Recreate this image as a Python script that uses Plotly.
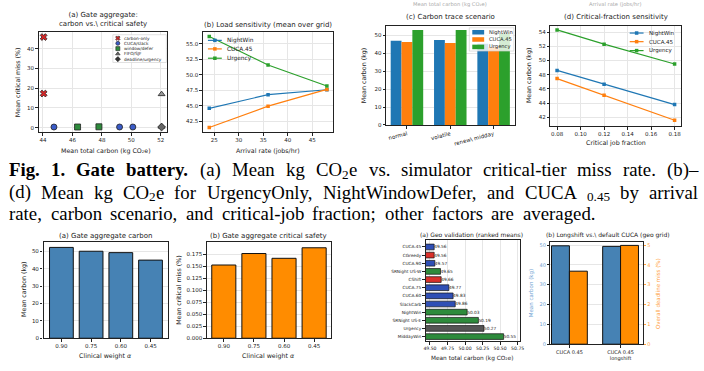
import plotly.graph_objects as go

W, H = 704, 371

# ---------------- data ----------------
a_groups = ["carbon-only", "CUCA/slack", "window/defer", "FIFO/SJF", "deadline/urgency"]
a_carbon_only_x = [44.05, 44.05]
a_carbon_only_y = [46.0, 17.3]
a_cuca_x = [44.75, 49.2, 50.1]
a_cuca_y = [0.3, 0.3, 0.3]
a_window_x = [46.35, 47.8]
a_window_y = [0.3, 0.4]
a_fifo_x = [52.05, 52.05]
a_fifo_y = [17.0, 0.5]
a_deadline_x = [52.05]
a_deadline_y = [0.3]

series_names = ["NightWin", "CUCA.45", "Urgency"]

arrival_rates = [24, 36, 48]
load_nightwin = [44.6, 46.8, 47.6]
load_cuca45 = [41.5, 44.95, 47.65]
load_urgency = [56.2, 51.6, 48.2]

scenarios = ["normal", "volatile", "renew\\ midday"]
scen_nightwin = [47.0, 47.5, 45.3]
scen_cuca45 = [46.3, 45.8, 43.5]
scen_urgency = [53.0, 53.0, 50.9]

crit_fracs = [0.08, 0.12, 0.18]
crit_nightwin = [48.6, 46.65, 43.8]
crit_cuca45 = [47.45, 45.1, 41.6]
crit_urgency = [54.3, 52.3, 49.5]

alphas = ["0.90", "0.75", "0.60", "0.45"]
gate_carbon = [52.2, 50.0, 49.2, 44.9]
gate_miss = [0.153, 0.177, 0.167, 0.189]

geo_methods = ["CUCA.45", "CGreedy", "CUCA.90", "SRNight US-W", "CShift", "CUCA.75",
               "CUCA.60", "SlackCarb", "NightWin", "SRNight US-E", "Urgency", "MiddayWin"]
geo_means = [49.56, 49.56, 49.57, 49.65, 49.66, 49.77, 49.83, 49.86, 50.03, 50.19, 50.27, 50.55]
geo_family = ["cuca", "carbon", "cuca", "window", "carbon", "cuca",
              "cuca", "cuca", "window", "window", "baseline", "window"]

ls_labels = ["CUCA 0.45", "CUCA 0.45<br>longshift"]
ls_carbon = [49.6, 49.3]
ls_miss = [3.68, 4.98]

# caption words: each word is a list of (text, style) with style in {"r","b","sub"}
cap_line1 = [[("Fig.", "b")], [("1.", "b")], [("Gate", "b")], [("battery.", "b")],
             [("(a)", "r")], [("Mean", "r")], [("kg", "r")], [("CO", "r"), ("2", "sub"), ("e", "r")],
             [("vs.", "r")], [("simulator", "r")], [("critical-tier", "r")], [("miss", "r")],
             [("rate.", "r")], [("(b)–", "r")]]
cap_line2 = [[("(d)", "r")], [("Mean", "r")], [("kg", "r")], [("CO", "r"), ("2", "sub"), ("e", "r")],
             [("for", "r")], [("UrgencyOnly,", "r")], [("NightWindowDefer,", "r")], [("and", "r")],
             [("CUCA", "r")], [("0.45", "sub")], [("by", "r")], [("arrival", "r")]]
cap_line3 = [[(w, "r")] for w in
             "rate, carbon scenario, and critical-job fraction; other factors are averaged.".split(" ")]

# ---------------- Times metrics (per 1000 em) for caption layout ----------------
TR = {' ': 250, '(': 333, ')': 333, ',': 250, '-': 333, '.': 250, ';': 278, '–': 500,
      '0': 500, '1': 500, '2': 500, '4': 500, '5': 500,
      'A': 722, 'C': 667, 'D': 722, 'M': 889, 'N': 722, 'O': 722, 'U': 722, 'W': 944,
      'a': 444, 'b': 500, 'c': 444, 'd': 500, 'e': 444, 'f': 333, 'g': 500, 'h': 500, 'i': 278,
      'j': 278, 'k': 500, 'l': 278, 'm': 778, 'n': 500, 'o': 500, 'p': 500, 'r': 333, 's': 389,
      't': 278, 'u': 500, 'v': 500, 'w': 722, 'y': 500}
TB = {' ': 250, '.': 250, '1': 500, 'F': 611, 'G': 778, 'a': 500, 'b': 556, 'e': 444, 'g': 500,
      'i': 278, 'r': 444, 't': 333, 'y': 500}

def seg_width(s, style, size):
    tbl = TB if style == "b" else TR
    scale = 0.7 if style == "sub" else 1.0
    return sum(tbl.get(c, 500) for c in s) / 1000.0 * size * scale

def word_width(word, size):
    return sum(seg_width(s, st, size) for s, st in word)

# ---------------- styles ----------------
C_BLUE, C_ORANGE, C_GREEN = "#1f77b4", "#ff7f0e", "#2ca02c"
series_colors = [C_BLUE, C_ORANGE, C_GREEN]
STEEL, DORANGE = "#4682b4", "#ff8c00"
fam_colors = {"cuca": "#2f4fb5", "carbon": "#d9302a", "window": "#2e8b3c", "baseline": "#555555"}
FONT = "DejaVu Sans"
SERIF = "Liberation Serif"
CO2_LABEL = "Mean total carbon (kg CO\u2082e)"

def fx(p):
    return p / W

def fy(p):
    return 1 - p / H

panels = {
    "A": (37, 167, 32, 133),
    "B": (203, 334, 32, 133),
    "C": (388, 518, 26, 126),
    "D": (554, 686, 26, 127),
    "E": (42, 168, 244, 341),
    "F": (207, 332, 244, 341),
    "G": (428, 523, 242, 344),
    "H": (554, 647, 244, 347),
}

def xdom(k):
    x0, x1, _, _ = panels[k]
    return [fx(x0), fx(x1)]

def ydom(k):
    _, _, yt, yb = panels[k]
    return [fy(yb), fy(yt)]

def axis(dom, anchor, fs=5.5, grid=True, **kw):
    d = dict(domain=dom, anchor=anchor, ticks="outside", ticklen=2.5, tickwidth=0.8,
             tickcolor="#222", tickfont=dict(family=FONT, size=fs, color="#222"),
             showline=True, linecolor="#222", linewidth=1.2, mirror=True,
             zeroline=False, showgrid=grid, gridcolor="#e6e6e6", gridwidth=0.7)
    d.update(kw)
    return d

fig = go.Figure()

# ---- (a) scatter ----
def sc(x, y, sym, col, size=6):
    fig.add_trace(go.Scatter(x=x, y=y, mode="markers", xaxis="x", yaxis="y", showlegend=False,
                             marker=dict(symbol=sym, size=size, color=col,
                                         line=dict(color="#222", width=0.8))))

sc(a_carbon_only_x, a_carbon_only_y, "x", "#d62728")
sc(a_cuca_x, a_cuca_y, "circle", "#3a5bc7")
sc(a_window_x, a_window_y, "square", "#2e8b3c")
sc(a_fifo_x, a_fifo_y, "triangle-up", "#999999")
sc(a_deadline_x, a_deadline_y, "diamond", "#666666")

# ---- (b) load sensitivity ----
for ys, col in zip([load_nightwin, load_cuca45, load_urgency], series_colors):
    fig.add_trace(go.Scatter(x=arrival_rates, y=ys, mode="lines+markers", xaxis="x2", yaxis="y2",
                             showlegend=False, line=dict(color=col, width=1.2),
                             marker=dict(symbol="square", size=3.5, color=col)))

# ---- (c) carbon trace scenario ----
for k, (ys, col) in enumerate(zip([scen_nightwin, scen_cuca45, scen_urgency], series_colors)):
    fig.add_trace(go.Bar(x=list(range(len(scenarios))), y=ys, xaxis="x3", yaxis="y3",
                         offset=-0.375 + 0.25 * k, width=0.25, marker=dict(color=col, line=dict(width=0)),
                         showlegend=False))

# ---- (d) critical fraction ----
for ys, col in zip([crit_nightwin, crit_cuca45, crit_urgency], series_colors):
    fig.add_trace(go.Scatter(x=crit_fracs, y=ys, mode="lines+markers", xaxis="x4", yaxis="y4",
                             showlegend=False, line=dict(color=col, width=1.2),
                             marker=dict(symbol="square", size=3.5, color=col)))

# ---- bottom (a) gate carbon ----
fig.add_trace(go.Bar(x=list(range(len(alphas))), y=gate_carbon, xaxis="x5", yaxis="y5", width=0.8,
                     marker=dict(color=STEEL, line=dict(color="#111", width=1)), showlegend=False))
# ---- bottom (b) gate miss ----
fig.add_trace(go.Bar(x=list(range(len(alphas))), y=gate_miss, xaxis="x6", yaxis="y6", width=0.8,
                     marker=dict(color=DORANGE, line=dict(color="#111", width=1)), showlegend=False))

# ---- geo validation ----
gidx = list(range(len(geo_methods)))
fig.add_trace(go.Bar(x=geo_means, y=gidx, orientation="h", xaxis="x7", yaxis="y7", width=0.7,
                     marker=dict(color=[fam_colors[f] for f in geo_family], line=dict(color="#111", width=0.7)),
                     text=[f"{v:.2f}" for v in geo_means], textposition="outside",
                     textfont=dict(family=FONT, size=4.3, color="#222"), constraintext="none",
                     cliponaxis=False, showlegend=False))

# ---- longshift ----
lidx = list(range(len(ls_labels)))
fig.add_trace(go.Bar(x=lidx, y=ls_carbon, xaxis="x8", yaxis="y8", offset=-0.35, width=0.35,
                     marker=dict(color=STEEL, line=dict(color="#111", width=1)), showlegend=False))
fig.add_trace(go.Bar(x=lidx, y=ls_miss, xaxis="x8", yaxis="y9", offset=0.0, width=0.35,
                     marker=dict(color=DORANGE, line=dict(color="#111", width=1)), showlegend=False))

# ---------------- custom legends on a pixel overlay axis ----------------
def ov(x, y, **kw):
    fig.add_trace(go.Scatter(x=x, y=y, xaxis="x20", yaxis="y20", showlegend=False,
                             hoverinfo="skip", **kw))

def box(x0, y0, x1, y1, fill, edge=None):
    ov([x0, x1, x1, x0, x0], [y0, y0, y1, y1, y0], mode="lines", fill="toself", fillcolor=fill,
       line=dict(color=edge if edge else "rgba(0,0,0,0)", width=0.6))

annots = []

def txt(x, y, s, size, color="#222", xa="left", ya="middle", family=FONT, angle=0, pad=1):
    annots.append(dict(x=fx(x), y=fy(y), xref="paper", yref="paper", text=s, showarrow=False,
                       xanchor=xa, yanchor=ya, textangle=angle, borderpad=pad,
                       font=dict(family=family, size=size, color=color)))

# legend (a)
box(112, 35, 166, 63, "white", "#cccccc")
a_leg_y = [38.5, 43.7, 49.0, 54.3, 59.6]
a_leg_sym = [("x", "#d62728"), ("circle", "#3a5bc7"), ("square", "#2e8b3c"),
             ("triangle-up", "#666666"), ("diamond", "#333333")]
for lab, yy, (sym, col) in zip(a_groups, a_leg_y, a_leg_sym):
    ov([117], [yy], mode="markers", marker=dict(symbol=sym, size=4, color=col, line=dict(color="#222", width=0.6)))
    txt(121, yy, lab, 4.3)

# legend (b)
for lab, yy, col in zip(series_names, [40.7, 49.3, 58.7], series_colors):
    ov([208, 222], [yy, yy], mode="lines", line=dict(color=col, width=1.2))
    ov([215], [yy], mode="markers", marker=dict(symbol="square", size=3.5, color=col))
    txt(225.5, yy, lab, 5.8)

# legend (c)
box(472, 28, 517, 51.5, "rgba(255,255,255,0.8)", "#cccccc")
for lab, yy, col in zip(series_names, [32.5, 39.8, 47.3], series_colors):
    box(475, yy - 2.3, 487, yy + 2.3, col)
    txt(490, yy, lab, 5.2)

# legend (d)
for lab, yy, col in zip(series_names, [33.3, 42.0, 51.0], series_colors):
    ov([634, 648], [yy, yy], mode="lines", line=dict(color=col, width=1.2))
    ov([641], [yy], mode="markers", marker=dict(symbol="square", size=3.5, color=col))
    txt(651.5, yy, lab, 5.5)

# ---------------- titles & axis labels ----------------
def cx(k):
    x0, x1, _, _ = panels[k]
    return (x0 + x1) / 2

txt(cx("A"), 20, "(a) Gate aggregate:<br>carbon vs.\\ critical safety", 7, xa="center")
txt(cx("B"), 25, "(b) Load sensitivity (mean over grid)", 7, xa="center")
txt(cx("C"), 16.7, "(c) Carbon trace scenario", 7, xa="center")
txt(cx("D"), 17, "(d) Critical-fraction sensitivity", 7, xa="center")
txt(453, 5, CO2_LABEL, 5.2, color="#aaaaaa", xa="center")
txt(620, 5, "Arrival rate (jobs/hr)", 5.2, color="#aaaaaa", xa="center")

txt(cx("A") + 3, 152, CO2_LABEL, 6.3, xa="center")
txt(15, 83, "Mean critical miss (%)", 6.3, xa="center", angle=-90)
txt(cx("B"), 152, "Arrival rate (jobs/hr)", 6.3, xa="center")
txt(366.5, 76, "Mean carbon (kg)", 6.3, xa="center", angle=-90)
txt(cx("D"), 144, "Critical job fraction", 6.3, xa="center")
txt(533, 76, "Mean carbon (kg)", 6.3, xa="center", angle=-90)

txt(cx("E"), 238, "(a) Gate aggregate carbon", 7, xa="center")
txt(cx("F"), 238, "(b) Gate aggregate critical safety", 7, xa="center")
txt(474, 236.5, "(a) Geo validation (ranked means)", 6, xa="center")
txt(612, 237, "(b) Longshift vs.\\ default CUCA (geo grid)", 6, xa="center")

txt(cx("E"), 359, "Clinical weight <i>α</i>", 6.3, xa="center")
txt(21.5, 292, "Mean carbon (kg)", 6.3, xa="center", angle=-90)
txt(cx("F"), 359, "Clinical weight <i>α</i>", 6.3, xa="center")
txt(178, 292, "Mean critical miss (%)", 6.3, xa="center", angle=-90)
txt(475, 361.5, CO2_LABEL, 5.8, xa="center")
txt(535, 296, "Mean carbon (kg)", 5.5, color="#6f9fd3", xa="center", angle=-90)
txt(662, 296, "Overall deadline miss (%)", 5.5, color="#ffa040", xa="center", angle=-90)

# ---------------- caption (justified via Times metrics) ----------------
CAP = 18.8
CAP_L = 6.0

def place_word(word, x, y):
    for s, st in word:
        if st == "sub":
            txt(x, y + 0.24 * CAP, s, round(CAP * 0.7, 1), family=SERIF, color="#000", pad=0)
        elif st == "b":
            txt(x, y, "<b>" + s + "</b>", CAP, family=SERIF, color="#000", pad=0)
        else:
            txt(x, y, s, CAP, family=SERIF, color="#000", pad=0)
        x += seg_width(s, st, CAP)

def justify(words, yline, right):
    widths = [word_width(w, CAP) for w in words]
    gap = (right - CAP_L - sum(widths)) / (len(words) - 1)
    xpos = CAP_L
    for w, wd in zip(words, widths):
        place_word(w, xpos, yline)
        xpos += wd + gap

justify(cap_line1, 171, 702.0)
justify(cap_line2, 194, 702.0)
justify(cap_line3, 215, 598.0)

# ---------------- layout ----------------
layout = dict(
    width=W, height=H, margin=dict(l=0, r=0, t=0, b=0), autosize=False,
    paper_bgcolor="white", plot_bgcolor="rgba(0,0,0,0)", barmode="overlay", showlegend=False,
    annotations=annots,
    xaxis=axis(xdom("A"), "y", range=[43.71, 52.44], tickvals=[44, 46, 48, 50, 52]),
    yaxis=axis(ydom("A"), "x", range=[-2.2, 48.7], tickvals=[0, 10, 20, 30, 40]),
    xaxis2=axis(xdom("B"), "y2", range=[22.72, 49.18], tickvals=[25, 30, 35, 40, 45]),
    yaxis2=axis(ydom("B"), "x2", range=[40.79, 56.97], tickvals=[42.5, 45, 47.5, 50, 52.5, 55],
                tickformat=".1f"),
    xaxis3=axis(xdom("C"), "y3", range=[-0.48, 2.49], tickvals=[0, 1, 2], ticktext=scenarios,
                tickangle=-15, showgrid=False),
    yaxis3=axis(ydom("C"), "x3", range=[0, 55.4], tickvals=[0, 10, 20, 30, 40, 50]),
    xaxis4=axis(xdom("D"), "y4", range=[0.0744, 0.1856], tickvals=[0.08, 0.10, 0.12, 0.14, 0.16, 0.18],
                tickformat=".2f"),
    yaxis4=axis(ydom("D"), "x4", range=[40.79, 54.88], tickvals=[42, 44, 46, 48, 50, 52, 54]),
    xaxis5=axis(xdom("E"), "y5", range=[-0.6, 3.6], tickvals=[0, 1, 2, 3], ticktext=alphas, showgrid=False),
    yaxis5=axis(ydom("E"), "x5", range=[0, 55.3], tickvals=[0, 10, 20, 30, 40, 50]),
    xaxis6=axis(xdom("F"), "y6", range=[-0.56, 3.55], tickvals=[0, 1, 2, 3], ticktext=alphas, showgrid=False),
    yaxis6=axis(ydom("F"), "x6", range=[0, 0.201], tickvals=[0, 0.025, 0.05, 0.075, 0.1, 0.125, 0.15, 0.175],
                tickformat=".3f"),
    xaxis7=axis(xdom("G"), "y7", fs=4.6, range=[49.44, 50.78],
                tickvals=[49.5, 49.75, 50.0, 50.25, 50.5, 50.75], tickformat=".2f"),
    yaxis7=axis(ydom("G"), "x7", fs=4.3, range=[11.57, -0.85], tickvals=gidx, ticktext=geo_methods,
                showgrid=False),
    xaxis8=axis(xdom("H"), "y8", fs=5, range=[-0.37, 1.43], tickvals=lidx, ticktext=ls_labels, showgrid=False),
    yaxis8=axis(ydom("H"), "x8", fs=5, range=[0, 51.5], tickvals=[0, 10, 20, 30, 40, 50],
                tickfont=dict(family=FONT, size=5, color="#6f9fd3"), mirror=False),
    yaxis9=axis(ydom("H"), "x8", fs=5, range=[0, 5.15], tickvals=[0, 1, 2, 3, 4, 5], overlaying="y8",
                side="right", showgrid=False, mirror=False, tickcolor="#ffa040",
                tickfont=dict(family=FONT, size=5, color="#ffa040")),
    xaxis20=dict(domain=[0, 1], range=[0, W], visible=False, anchor="y20", fixedrange=True),
    yaxis20=dict(domain=[0, 1], range=[H, 0], visible=False, anchor="x20", fixedrange=True),
)
fig.update_layout(**layout)
fig.write_html("out.html")
